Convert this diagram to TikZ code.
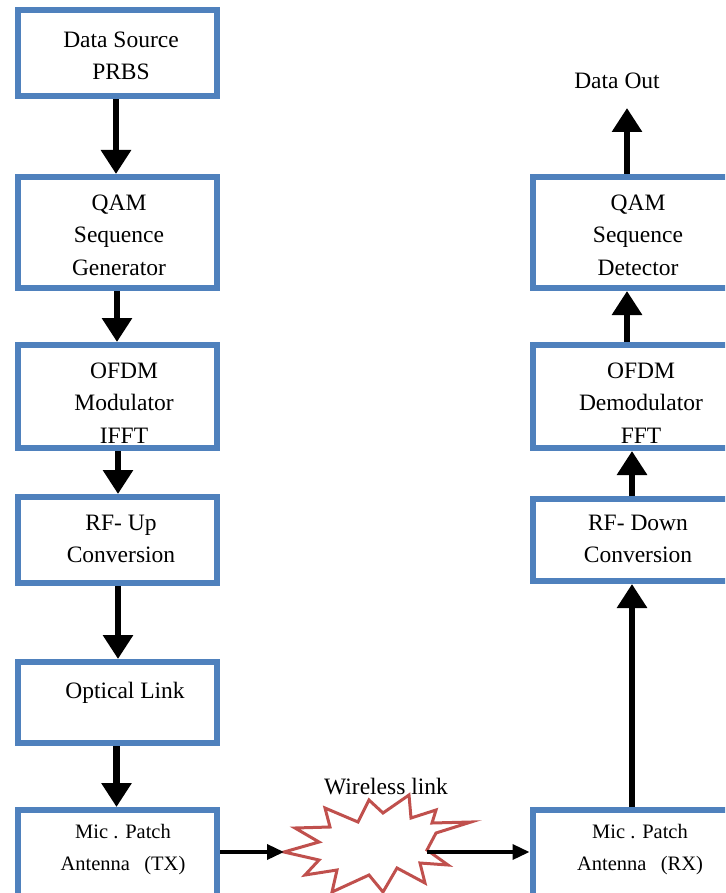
\documentclass[tikz,border=0pt]{standalone}
\usepackage{fontspec}
\setmainfont{Liberation Serif}
\usetikzlibrary{arrows.meta}
\definecolor{boxblue}{HTML}{4F81BD}
\definecolor{starred}{HTML}{C0504D}
\begin{document}
\begin{tikzpicture}[x=1pt,y=-1pt,
  box/.style={draw=boxblue,line width=6pt,inner sep=0pt,rectangle},
  lbox/.style={box,minimum width=199pt},
  rbox/.style={box,minimum width=203pt},
  txt/.style={align=center,font=\fontsize{23.5}{32.5}\selectfont,inner sep=0pt},
  stxt/.style={align=center,font=\fontsize{20.5}{32}\selectfont,inner sep=0pt},
  varr/.style={line width=6.5pt,-{Triangle[width=29pt,length=24pt]}},
  harr/.style={line width=3.5pt,-{Triangle[width=15pt,length=17pt]}}]
\useasboundingbox (0,0) rectangle (725,893);
\clip (0,0) rectangle (725,893);
% left column boxes
\node[lbox,minimum height=86pt]  (ds) at (117.5,53) {};
\node[lbox,minimum height=111pt] (qg) at (117.5,232.5) {};
\node[lbox,minimum height=103pt] (om) at (117.5,396.5) {};
\node[lbox,minimum height=86pt]  (ru) at (117.5,540) {};
\node[lbox,minimum height=81pt]  (ol) at (117.5,702.5) {};
\node[lbox,minimum height=88pt]  (tx) at (117.5,854) {};
% right column boxes
\node[rbox,minimum height=111pt] (qd) at (634,232.5) {};
\node[rbox,minimum height=103pt] (od) at (634,396.5) {};
\node[rbox,minimum height=82pt]  (rd) at (634,540) {};
\node[rbox,minimum height=88pt]  (rx) at (634,854) {};
% texts
\node[txt] (dst) at (121,56) {Data Source\\PRBS};
\node[txt] (qgt) at (119,235) {QAM\\Sequence\\Generator};
\node[txt] (omt) at (124,403) {OFDM\\Modulator\\IFFT};
\node[txt] (rut) at (121,539) {RF- Up\\Conversion};
\node[txt] (olt) at (125,693) {Optical Link};
\node[stxt] (txt1) at (123,850) {Mic . Patch\\Antenna\hspace{0.7em}(TX)};
\node[txt] (qdt) at (638,235) {QAM\\Sequence\\Detector};
\node[txt] (odt) at (641,403) {OFDM\\Demodulator\\FFT};
\node[txt] (rdt) at (638,539) {RF- Down\\Conversion};
\node[stxt] (rxt) at (640,850) {Mic . Patch\\Antenna\hspace{0.7em}(RX)};
\node[txt] (dout) at (617,81) {Data Out};
\node[txt] (wl) at (386,787) {Wireless link};
% starburst
\draw[starred,line width=3pt,line join=miter]
  (284,852) -- (319,842) -- (295,828) -- (330,827) -- (325,808) -- (358,822)
  -- (369,800) -- (383,813) -- (409,795) -- (411,818) -- (436,810) -- (432,823)
  -- (471,822) -- (436,833) -- (427,850) -- (448,865) -- (420,863) -- (425,883)
  -- (397,868) -- (383,892) -- (369,875) -- (332,892) -- (337,870) -- (305,875)
  -- (319,860) -- cycle;
\coordinate (sl) at (284,852);
\coordinate (sr) at (427,852);
% left arrows
\draw[varr] ([xshift=-1.5pt]ds.south) -- ([xshift=-1.5pt]qg.north);
\draw[varr] ([xshift=-0.5pt]qg.south) -- ([xshift=-0.5pt]om.north);
\draw[varr] ([xshift=0.5pt]om.south) -- ([xshift=0.5pt]ru.north);
\draw[varr] ([xshift=0.5pt]ru.south) -- ([xshift=0.5pt]ol.north);
\draw[varr] ([xshift=-1pt]ol.south) -- ([xshift=-1pt]tx.north);
% right arrows
\coordinate (ax) at (627,0);
\coordinate (bx) at (632,0);
\draw[varr] (qd.north -| ax) -- (ax |- 108,108);
\draw[varr] (od.north -| ax) -- (qd.south -| ax);
\draw[varr] (rd.north -| bx) -- (od.south -| bx);
\draw[varr] (rx.north -| bx) -- (rd.south -| bx);
% horizontal arrows
\draw[harr] (tx.east |- sl) -- (sl);
\draw[harr] (sr) -- (rx.west |- sr);
\end{tikzpicture}
\end{document}
